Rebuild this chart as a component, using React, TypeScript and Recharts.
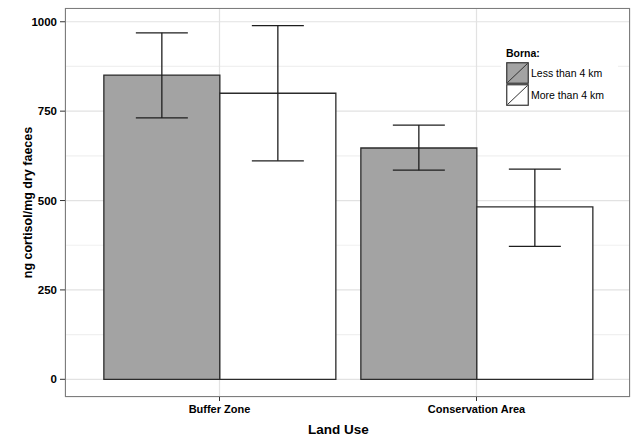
import React from 'react';
import {
  BarChart, Bar, XAxis, YAxis, CartesianGrid, ErrorBar, Legend,
} from 'recharts';

const categories = ['Buffer Zone', 'Conservation Area'];
// Borna: less than 4 km
const lessMean = [851, 647];
const lessLow = [731, 585];
const lessHigh = [969, 711];
// Borna: more than 4 km
const moreMean = [800, 482];
const moreLow = [611, 372];
const moreHigh = [989, 588];

// major ticks are labelled, minor ones only get a faint grid line
const yTicks = [0, 125, 250, 375, 500, 625, 750, 875, 1000];
const yMajor = [0, 250, 500, 750, 1000];

const data = categories.map((c, i) => ({
  landUse: c,
  less: lessMean[i],
  lessErr: [lessMean[i] - lessLow[i], lessHigh[i] - lessMean[i]],
  more: moreMean[i],
  moreErr: [moreMean[i] - moreLow[i], moreHigh[i] - moreMean[i]],
}));

const FONT = '"Liberation Sans", Arial, sans-serif';
const GREY = '#a3a3a3';

const YTick = (props: any) => {
  const { x, y, payload } = props;
  if (!yMajor.includes(payload.value)) return null;
  return (
    <g>
      <line x1={60} x2={65} y1={y} y2={y} stroke="#333" strokeWidth={1} />
      <text x={x} y={y} dy={4} textAnchor="end" fill="#000" fontSize={11.5} fontWeight={700} fontFamily={FONT}>
        {payload.value}
      </text>
    </g>
  );
};

const HLine = (props: any) => {
  const { x1, x2, y1, y2, index } = props;
  const major = index === undefined ? true : index % 2 === 0;
  return (
    <line x1={x1} x2={x2} y1={y1} y2={y2} stroke={major ? '#e2e2e2' : '#f0f0f0'} strokeWidth={1.2} />
  );
};

const Swatch = ({ fill }: { fill: string }) => (
  <svg width={23} height={22} style={{ display: 'block' }}>
    <rect x={0.75} y={0.75} width={21.5} height={20.5} fill={fill} stroke="#333" strokeWidth={1.2} />
    <line x1={1.5} y1={20.5} x2={21.5} y2={1.5} stroke="#333" strokeWidth={1} />
  </svg>
);

const BornaLegend = () => (
  <div style={{ background: '#fff', fontFamily: FONT, padding: '4px 0 2px 5px' }}>
    <div style={{ fontWeight: 700, fontSize: 10.5, marginBottom: 3 }}>Borna:</div>
    {[
      { label: 'Less than 4 km', fill: GREY },
      { label: 'More than 4 km', fill: '#fff' },
    ].map((it) => (
      <div key={it.label} style={{ display: 'flex', alignItems: 'center', height: 22 }}>
        <Swatch fill={it.fill} />
        <span style={{ fontSize: 10.5, marginLeft: 2, color: '#000' }}>{it.label}</span>
      </div>
    ))}
  </div>
);

export default function App() {
  return (
    <div style={{ position: 'absolute', left: 0, top: 0, width: 631, height: 436, background: '#fff' }}>
      <BarChart
        width={631}
        height={436}
        data={data}
        margin={{ top: 8, right: 1, left: 0, bottom: 0 }}
        barCategoryGap="5%"
        barGap={0}
      >
        <CartesianGrid stroke="#e2e2e2" strokeWidth={1.2} horizontal={(p: any) => <HLine {...p} />} />
        <XAxis
          dataKey="landUse"
          padding={{ left: 26, right: 25 }}
          height={39}
          axisLine={false}
          tickLine={{ stroke: '#333' }}
          tickSize={4}
          tickMargin={4}
          tick={{ fill: '#000', fontSize: 11, fontWeight: 700, fontFamily: FONT }}
          label={{
            value: 'Land Use', position: 'insideBottom', offset: 2, dx: -9,
            style: { fill: '#000', fontSize: 13.5, fontWeight: 700, fontFamily: FONT },
          }}
        />
        <YAxis
          type="number"
          domain={[-49.5, 1038.5]}
          ticks={yTicks}
          interval={0}
          width={65}
          axisLine={false}
          tickLine={false}
          tickSize={5}
          tickMargin={3}
          tick={<YTick />}
          label={{
            value: 'ng cortisol/mg dry faeces', angle: -90, position: 'insideLeft', offset: 28,
            style: { textAnchor: 'middle', fill: '#000', fontSize: 12.5, fontWeight: 700, fontFamily: FONT },
          }}
        />
        <Legend
          verticalAlign="middle"
          align="center"
          content={() => <BornaLegend />}
          wrapperStyle={{ left: 501, top: 43, width: 117, height: 66 }}
        />
        <Bar dataKey="less" fill={GREY} stroke="#2b2b2b" strokeWidth={1.3} isAnimationActive={false}>
          <ErrorBar dataKey="lessErr" width={26} stroke="#1e1e1e" strokeWidth={1.3} direction="y" />
        </Bar>
        <Bar dataKey="more" fill="#fff" stroke="#2b2b2b" strokeWidth={1.3} isAnimationActive={false}>
          <ErrorBar dataKey="moreErr" width={26} stroke="#1e1e1e" strokeWidth={1.3} direction="y" />
        </Bar>
      </BarChart>
      <div
        style={{
          position: 'absolute', left: 65, top: 8, width: 565, height: 389,
          boxSizing: 'border-box', border: '1.5px solid #7d7d7d', pointerEvents: 'none',
        }}
      />
    </div>
  );
}
